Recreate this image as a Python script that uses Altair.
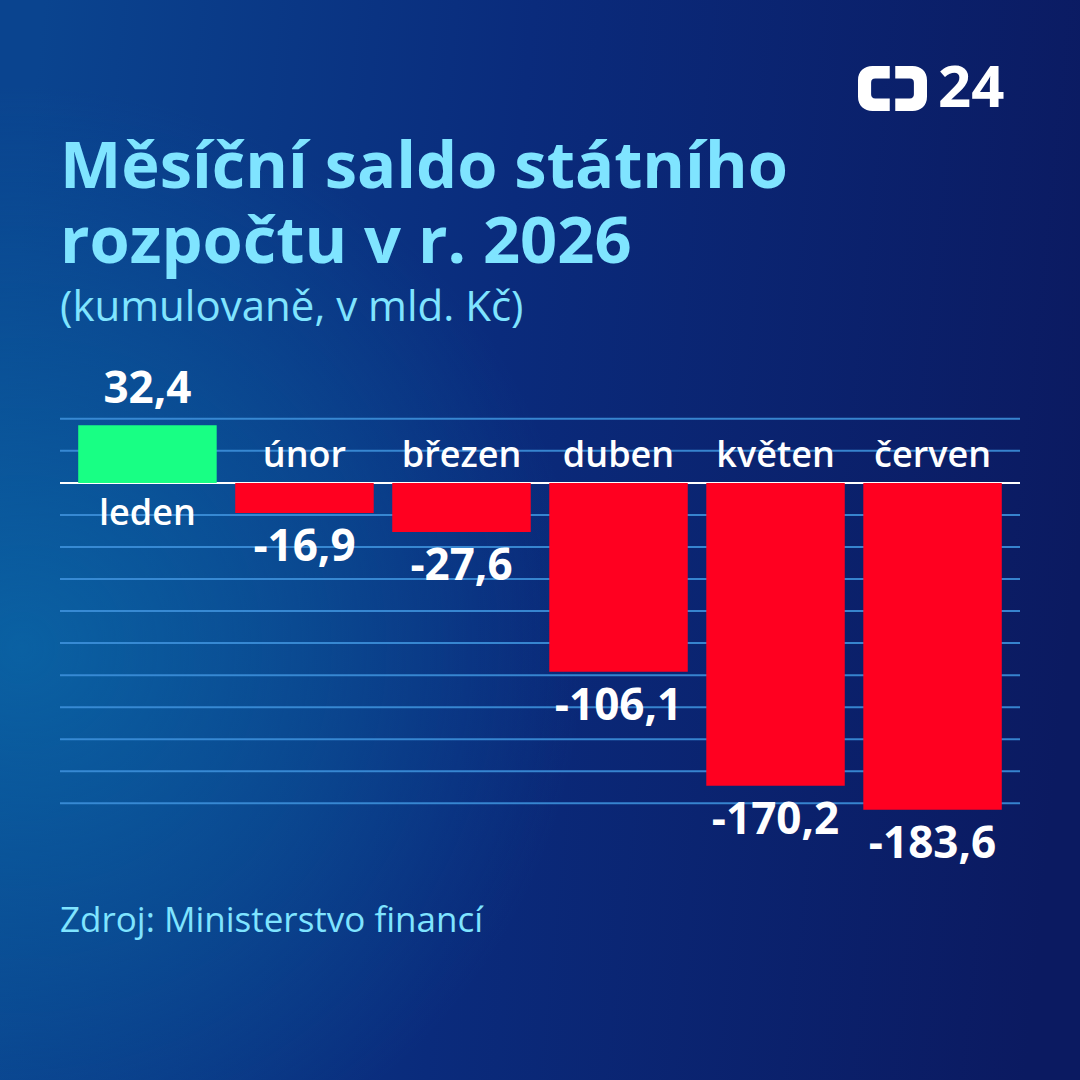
import altair as alt
import pandas as pd

months = ["leden", "únor", "březen", "duben", "květen", "červen"]
values = [32.4, -16.9, -27.6, -106.1, -170.2, -183.6]
grid_values = [36, 18, -18, -36, -54, -72, -90, -108, -126, -144, -162, -180]
title_lines = ["Měsíční saldo státního", "rozpočtu v r. 2026"]
subtitle = "(kumulovaně, v mld. Kč)"
source = "Zdroj: Ministerstvo financí"
logo_text = "24"

df = pd.DataFrame({"month": months, "value": values})
df["label"] = [f"{v:.1f}".replace(".", ",") for v in values]
grid_df = pd.DataFrame({"v": grid_values})
one = pd.DataFrame({"k": [0]})

W, H = 960, 429
L, T = 60, 401
FONT = "Open Sans"
CYAN = "#7fe4ff"
GREEN = "#18ff84"
RED = "#ff0020"
GRID = "#3c8fd9"

yscale = alt.Scale(domain=[-195, 46], nice=False, zero=False)
xenc = alt.X("month:N", sort=months,
             scale=alt.Scale(paddingInner=0.118, paddingOuter=0.116), axis=None)

full = dict(x=alt.value(-L), x2=alt.value(1080 - L), y=alt.value(-T), y2=alt.value(1080 - T))

bg = alt.Chart(one).mark_rect(
    fill=alt.LinearGradient(
        gradient="linear",
        stops=[alt.GradientStop(color="#0a448f", offset=0),
               alt.GradientStop(color="#0a2b7c", offset=0.45),
               alt.GradientStop(color="#0b1a61", offset=1)],
        x1=0, y1=0.4, x2=1, y2=0.5)
).encode(**full)

glow = alt.Chart(one).mark_rect(
    fill=alt.RadialGradient(
        gradient="radial",
        stops=[alt.GradientStop(color="rgba(10,100,165,0.9)", offset=0),
               alt.GradientStop(color="rgba(10,95,160,0.45)", offset=0.55),
               alt.GradientStop(color="rgba(10,90,160,0)", offset=1)],
        x1=0.02, y1=0.6, r1=0, x2=0.02, y2=0.6, r2=0.52)
).encode(**full)

grid = alt.Chart(grid_df).mark_rule(color=GRID, strokeWidth=2, opacity=0.9).encode(
    y=alt.Y("v:Q", scale=yscale, axis=None))

zero = alt.Chart(one).mark_rule(color="white", strokeWidth=2).encode(
    y=alt.Y(datum=0, scale=yscale, axis=None))

bars = alt.Chart(df).mark_bar().encode(
    x=xenc,
    y=alt.Y("value:Q", scale=yscale, axis=None),
    color=alt.condition("datum.value > 0", alt.value(GREEN), alt.value(RED)))

val_pos = alt.Chart(df).transform_filter("datum.value > 0").mark_text(
    font=FONT, fontSize=44, fontWeight="bold", color="white", dy=-22, baseline="alphabetic"
).encode(x=xenc, y=alt.Y("value:Q", scale=yscale, axis=None), text="label:N")

val_neg = alt.Chart(df).transform_filter("datum.value < 0").mark_text(
    font=FONT, fontSize=44, fontWeight="bold", color="white", dy=48, baseline="alphabetic"
).encode(x=xenc, y=alt.Y("value:Q", scale=yscale, axis=None), text="label:N")

mon_neg = alt.Chart(df).transform_filter("datum.value < 0").mark_text(
    font=FONT, fontSize=36, fontWeight=600, color="white", dy=-16, baseline="alphabetic"
).encode(x=xenc, y=alt.Y(datum=0, scale=yscale, axis=None), text="month:N")

mon_pos = alt.Chart(df).transform_filter("datum.value > 0").mark_text(
    font=FONT, fontSize=36, fontWeight=600, color="white", dy=42, baseline="alphabetic"
).encode(x=xenc, y=alt.Y(datum=0, scale=yscale, axis=None), text="month:N")


def label(text, x, y, size, weight, color, align="left", line_height=None):
    kw = dict(font=FONT, fontSize=size, fontWeight=weight, color=color,
              align=align, baseline="alphabetic")
    if line_height is not None:
        kw["lineHeight"] = line_height
    return alt.Chart(one).mark_text(**kw).encode(
        x=alt.value(x), y=alt.value(y), text=alt.value(text))


title = label(title_lines, 0, 188 - T, 65, "bold", CYAN, line_height=75)
sub = label(subtitle, 0, 321 - T, 42, 500, CYAN)
src = label(source, 0, 932 - T, 35, "normal", CYAN)
num24 = label(logo_text, 878, 107 - T, 58, "bold", "white")

left = ("M -0.08 -0.652 L -0.58 -0.652 C -0.82 -0.652 -1 -0.5 -1 -0.24 L -1 0.24 "
        "C -1 0.5 -0.82 0.652 -0.58 0.652 L -0.08 0.652 L -0.08 0.29 L -0.5 0.29 "
        "Q -0.62 0.29 -0.62 0.17 L -0.62 -0.17 Q -0.62 -0.29 -0.5 -0.29 "
        "L -0.08 -0.29 Z")
right = ("M 0.08 -0.652 L 0.58 -0.652 C 0.82 -0.652 1 -0.5 1 -0.24 L 1 0.24 "
         "C 1 0.5 0.82 0.652 0.58 0.652 L 0.08 0.652 L 0.08 0.29 L 0.5 0.29 "
         "Q 0.62 0.29 0.62 0.17 L 0.62 -0.17 Q 0.62 -0.29 0.5 -0.29 "
         "L 0.08 -0.29 Z")
logo = alt.Chart(one).mark_point(
    shape=left + " " + right, size=69 * 69, filled=True, fill="white",
    opacity=1, strokeWidth=0
).encode(x=alt.value(892.5 - L), y=alt.value(88.5 - T))

chart = alt.layer(
    bg, glow, grid, zero, bars, val_pos, val_neg, mon_neg, mon_pos,
    title, sub, src, logo, num24
).properties(
    width=W, height=H, autosize="none",
    padding={"left": L, "top": T, "right": 1080 - L - W, "bottom": 1080 - T - H},
    background="#0b2a78"
).configure_view(stroke=None)

chart.save("out.html", embed_options={"renderer": "svg", "actions": False})
